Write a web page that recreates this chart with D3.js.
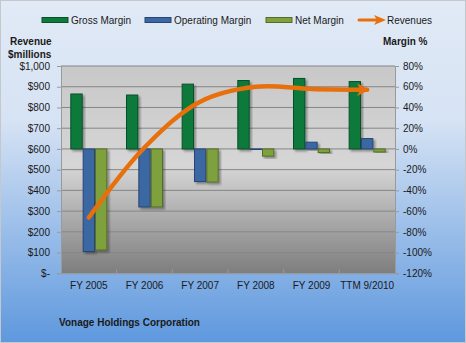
<!DOCTYPE html>
<html>
<head>
<meta charset="utf-8">
<title>Vonage Holdings Corporation</title>
<script src="https://cdn.jsdelivr.net/npm/d3@7"></script>
<style>
  body { margin: 0; overflow: hidden; }
  text { font-family: "Liberation Sans", Arial, sans-serif; fill: #1a1a1a; }
  .bold { font-weight: bold; }
</style>
</head>
<body>
<script>
// data
const categories = ["FY 2005", "FY 2006", "FY 2007", "FY 2008", "FY 2009", "TTM 9/2010"];
const seriesNames = ["Gross Margin", "Operating Margin", "Net Margin"];
const grossMargin = [53, 52, 62.5, 66, 68, 65];
const operatingMargin = [-99, -56, -31.5, -0.5, 6.5, 10];
const netMargin = [-97.5, -56, -32, -7, -3.5, -3];
const revenues = [269, 607, 828, 900, 889, 885];
const revenueTicks = [0, 100, 200, 300, 400, 500, 600, 700, 800, 900, 1000];
const marginTicks = [80, 60, 40, 20, 0, -20, -40, -60, -80, -100, -120];

const colors = {
  "Gross Margin": { fill: "#0b7a3a", stroke: "#07502a" },
  "Operating Margin": { fill: "#3b68a3", stroke: "#264673" },
  "Net Margin": { fill: "#7fa13e", stroke: "#556d28" }
};
const orange = "#e8700c";

const W = 466, H = 343;
const plot = { left: 61, right: 395, top: 66, bottom: 273.3 };

const svg = d3.select("body").append("svg")
  .attr("width", W).attr("height", H);

const defs = svg.append("defs");

// chart area background
const bg = defs.append("linearGradient").attr("id", "bg")
  .attr("x1", 0).attr("y1", 0).attr("x2", 0).attr("y2", 1);
bg.append("stop").attr("offset", "0%").attr("stop-color", "#e1eaf6");
bg.append("stop").attr("offset", "35%").attr("stop-color", "#d6e3f4");
bg.append("stop").attr("offset", "100%").attr("stop-color", "#5e98de");

// plot area background
const pg = defs.append("linearGradient").attr("id", "pg")
  .attr("x1", 0).attr("y1", 0).attr("x2", 0).attr("y2", 1);
pg.append("stop").attr("offset", "0%").attr("stop-color", "#c8c8c8");
pg.append("stop").attr("offset", "48%").attr("stop-color", "#d6d6d6");
pg.append("stop").attr("offset", "100%").attr("stop-color", "#7e7e7e");

const shadow = defs.append("filter").attr("id", "shadow")
  .attr("x", "-30%").attr("y", "-30%").attr("width", "160%").attr("height", "160%");
shadow.append("feDropShadow").attr("dx", 2).attr("dy", 2)
  .attr("stdDeviation", 1.2).attr("flood-color", "#000").attr("flood-opacity", 0.35);

defs.append("marker").attr("id", "arrow")
  .attr("viewBox", "0 0 10 10").attr("refX", 8).attr("refY", 5)
  .attr("markerWidth", 4).attr("markerHeight", 2.8).attr("markerUnits", "strokeWidth")
  .attr("orient", "auto")
  .append("path").attr("d", "M0,0 L10,5 L0,10 L2.5,5 Z").attr("fill", orange);

svg.append("rect").attr("x", 0.5).attr("y", 0.5).attr("width", W - 1).attr("height", H - 1)
  .attr("fill", "url(#bg)").attr("stroke", "#c4c8cc");

svg.append("rect")
  .attr("x", plot.left).attr("y", plot.top)
  .attr("width", plot.right - plot.left).attr("height", plot.bottom - plot.top)
  .attr("fill", "url(#pg)");

// scales
const x0 = d3.scaleBand().domain(categories).range([plot.left, plot.right])
  .paddingInner(0.335).paddingOuter(0.1675);
const x1 = d3.scaleBand().domain(seriesNames).range([0, x0.bandwidth()]);
const yRev = d3.scaleLinear().domain([0, 1000]).range([plot.bottom, plot.top]);
const yPct = d3.scaleLinear().domain([-120, 80]).range([plot.bottom, plot.top]);

// gridlines
svg.append("g").selectAll("line").data(revenueTicks.slice(1)).join("line")
  .attr("x1", plot.left).attr("x2", plot.right)
  .attr("y1", d => yRev(d)).attr("y2", d => yRev(d))
  .attr("stroke", "#868686").attr("stroke-width", 1);

// axes
const left = svg.append("g").attr("transform", `translate(${plot.left},0)`)
  .call(d3.axisLeft(yRev).tickValues(revenueTicks).tickSize(4).tickPadding(7)
    .tickFormat(d => d === 0 ? "$-" : "$" + d3.format(",")(d)));
const right = svg.append("g").attr("transform", `translate(${plot.right},0)`)
  .call(d3.axisRight(yPct).tickValues(marginTicks).tickSize(4).tickPadding(4)
    .tickFormat(d => d + "%"));
const bottom = svg.append("g").attr("transform", `translate(0,${plot.bottom})`)
  .call(d3.axisBottom(x0).tickSize(0).tickPadding(9));

[left, right, bottom].forEach(g => {
  g.select(".domain").attr("stroke", "#9a9a9a");
  g.selectAll(".tick line").attr("stroke", "#9a9a9a");
  g.selectAll("text").attr("font-size", 10).attr("fill", "#1a1a1a")
    .style("font-family", "'Liberation Sans', Arial, sans-serif");
});

// category separator ticks
svg.append("g").selectAll("line").data(categories.slice(1)).join("line")
  .attr("x1", d => x0(d) - x0.step() * x0.paddingInner() / 2)
  .attr("x2", d => x0(d) - x0.step() * x0.paddingInner() / 2)
  .attr("y1", plot.bottom - 4).attr("y2", plot.bottom)
  .attr("stroke", "#9a9a9a");

// bars
const rows = categories.map((c, i) => ({
  cat: c,
  values: [
    { name: "Gross Margin", v: grossMargin[i] },
    { name: "Operating Margin", v: operatingMargin[i] },
    { name: "Net Margin", v: netMargin[i] }
  ]
}));

svg.append("g").selectAll("g").data(rows).join("g")
  .attr("transform", d => `translate(${x0(d.cat)},0)`)
  .selectAll("rect").data(d => d.values).join("rect")
  .attr("x", d => x1(d.name) + 0.5)
  .attr("width", x1.bandwidth() - 1)
  .attr("y", d => Math.min(yPct(d.v), yPct(0)))
  .attr("height", d => Math.max(Math.abs(yPct(d.v) - yPct(0)), 0.8))
  .attr("fill", d => colors[d.name].fill)
  .attr("stroke", d => colors[d.name].stroke)
  .attr("stroke-width", 1)
  .attr("filter", "url(#shadow)");

// revenue line
const line = d3.line()
  .x((d, i) => x0(categories[i]) + x0.bandwidth() / 2)
  .y(d => yRev(d))
  .curve(d3.curveCatmullRom.alpha(0.5));

svg.append("path").datum(revenues)
  .attr("d", line)
  .attr("fill", "none")
  .attr("stroke", orange)
  .attr("stroke-width", 4.5)
  .attr("stroke-linecap", "round")
  .attr("marker-end", "url(#arrow)");

// legend
const legend = svg.append("g").attr("transform", "translate(0,20)");
const legendItems = [
  { name: "Gross Margin", x: 42 },
  { name: "Operating Margin", x: 145 },
  { name: "Net Margin", x: 266 }
];
legendItems.forEach(it => {
  legend.append("rect").attr("x", it.x).attr("y", -2.5).attr("width", 26).attr("height", 5)
    .attr("fill", colors[it.name].fill).attr("stroke", colors[it.name].stroke);
  legend.append("text").attr("x", it.x + 29).attr("y", 4).attr("font-size", 10).text(it.name);
});
legend.append("line").attr("x1", 359).attr("x2", 378).attr("y1", 0).attr("y2", 0)
  .attr("stroke", orange).attr("stroke-width", 3).attr("stroke-linecap", "round");
legend.append("path").attr("d", "M374,-5 L386,0 L374,5 L377,0 Z").attr("fill", orange);
legend.append("text").attr("x", 387).attr("y", 4).attr("font-size", 10).text("Revenues");

// axis titles and chart name
svg.append("text").attr("class", "bold").attr("x", 10).attr("y", 45).attr("font-size", 10).text("Revenue");
svg.append("text").attr("class", "bold").attr("x", 8).attr("y", 58).attr("font-size", 10).text("$millions");
svg.append("text").attr("class", "bold").attr("x", 383).attr("y", 45).attr("font-size", 10).text("Margin %");
svg.append("text").attr("class", "bold").attr("x", 59).attr("y", 326).attr("font-size", 10).text("Vonage Holdings Corporation");
</script>
</body>
</html>
